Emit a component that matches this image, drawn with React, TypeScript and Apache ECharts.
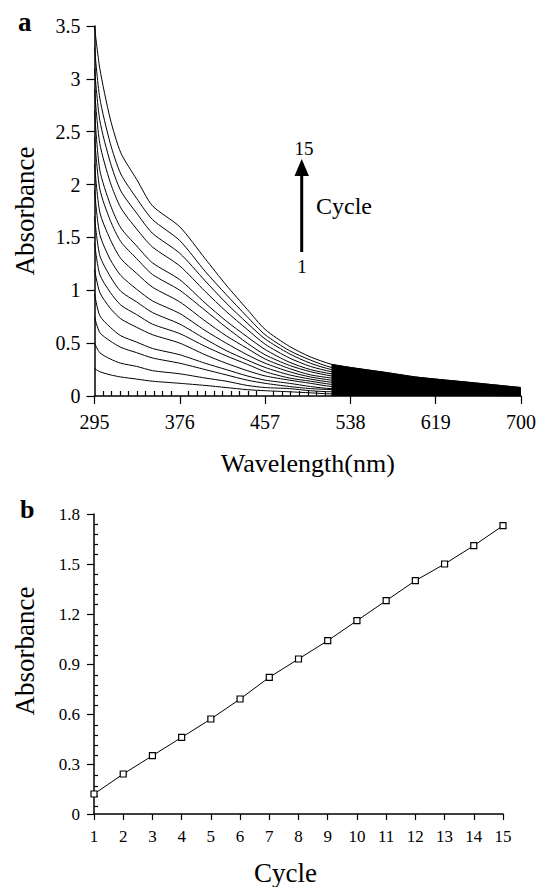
import React, { useEffect, useRef } from "react";
import * as echarts from "echarts";

// ---- Panel a: absorption spectra after each deposition cycle ----
const wavelengths = [295, 300, 310, 320, 335, 350, 376, 400, 420, 440, 457, 480, 500, 520, 538, 570, 600, 619, 650, 700];
const wavelengthTicks = [295, 376, 457, 538, 619, 700];

const cycle1 = [0.26, 0.23, 0.2, 0.18, 0.16, 0.14, 0.12, 0.1, 0.08, 0.06, 0.05, 0.04, 0.03, 0.02, 0.02, 0.012, 0.01, 0.005, 0.005, 0.0];
const cycle2 = [0.5, 0.41, 0.35, 0.31, 0.28, 0.24, 0.21, 0.17, 0.14, 0.1, 0.08, 0.07, 0.05, 0.04, 0.04, 0.03, 0.02, 0.015, 0.013, 0.005];
const cycle3 = [0.75, 0.6, 0.52, 0.46, 0.41, 0.36, 0.31, 0.25, 0.2, 0.15, 0.12, 0.09, 0.07, 0.06, 0.05, 0.04, 0.03, 0.025, 0.02, 0.01];
const cycle4 = [0.97, 0.76, 0.65, 0.57, 0.51, 0.45, 0.39, 0.31, 0.25, 0.19, 0.15, 0.12, 0.09, 0.07, 0.07, 0.05, 0.04, 0.034, 0.028, 0.015];
const cycle5 = [1.2, 0.98, 0.83, 0.73, 0.65, 0.58, 0.5, 0.39, 0.31, 0.24, 0.19, 0.15, 0.12, 0.09, 0.085, 0.067, 0.054, 0.045, 0.038, 0.021];
const cycle6 = [1.45, 1.15, 0.98, 0.86, 0.77, 0.68, 0.59, 0.47, 0.38, 0.3, 0.23, 0.17, 0.14, 0.11, 0.1, 0.08, 0.065, 0.055, 0.045, 0.026];
const cycle7 = [1.7, 1.33, 1.13, 0.99, 0.89, 0.79, 0.68, 0.54, 0.43, 0.34, 0.27, 0.2, 0.16, 0.13, 0.12, 0.093, 0.075, 0.065, 0.053, 0.031];
const cycle8 = [1.95, 1.53, 1.29, 1.14, 1.01, 0.9, 0.78, 0.62, 0.5, 0.39, 0.31, 0.23, 0.18, 0.15, 0.13, 0.107, 0.087, 0.075, 0.062, 0.036];
const cycle9 = [2.2, 1.74, 1.48, 1.3, 1.16, 1.03, 0.89, 0.71, 0.57, 0.45, 0.35, 0.26, 0.2, 0.17, 0.15, 0.12, 0.1, 0.087, 0.071, 0.042];
const cycle10 = [2.45, 1.96, 1.66, 1.46, 1.3, 1.15, 1.0, 0.81, 0.65, 0.5, 0.39, 0.29, 0.23, 0.19, 0.17, 0.14, 0.11, 0.098, 0.08, 0.048];
const cycle11 = [2.7, 2.14, 1.81, 1.59, 1.42, 1.26, 1.1, 0.88, 0.71, 0.56, 0.44, 0.32, 0.25, 0.21, 0.19, 0.15, 0.12, 0.108, 0.088, 0.053];
const cycle12 = [2.9, 2.39, 2.02, 1.78, 1.58, 1.41, 1.23, 0.99, 0.8, 0.63, 0.49, 0.36, 0.28, 0.23, 0.21, 0.17, 0.14, 0.12, 0.1, 0.06];
const cycle13 = [3.1, 2.61, 2.21, 1.94, 1.73, 1.54, 1.35, 1.09, 0.88, 0.69, 0.54, 0.4, 0.31, 0.25, 0.23, 0.19, 0.15, 0.13, 0.11, 0.066];
const cycle14 = [3.3, 2.82, 2.39, 2.1, 1.87, 1.67, 1.47, 1.18, 0.96, 0.75, 0.58, 0.43, 0.34, 0.27, 0.25, 0.2, 0.16, 0.145, 0.12, 0.072];
const cycle15 = [3.5, 3.1, 2.62, 2.3, 2.05, 1.8, 1.6, 1.3, 1.05, 0.82, 0.63, 0.47, 0.37, 0.3, 0.27, 0.225, 0.18, 0.16, 0.13, 0.08];
const spectra = [cycle1, cycle2, cycle3, cycle4, cycle5, cycle6, cycle7, cycle8, cycle9, cycle10, cycle11, cycle12, cycle13, cycle14, cycle15];
const fillFromWavelength = 520;

// ---- Panel b: absorbance vs cycle ----
const cycles = [1, 2, 3, 4, 5, 6, 7, 8, 9, 10, 11, 12, 13, 14, 15];
const absorbanceByCycle = [0.12, 0.24, 0.35, 0.46, 0.57, 0.69, 0.82, 0.93, 1.04, 1.16, 1.28, 1.4, 1.5, 1.61, 1.73];

const FONT = "Liberation Serif";

export default function App() {
  const ref = useRef<HTMLDivElement>(null);
  useEffect(() => {
    document.body.style.margin = "0";
    if (!ref.current) return;
    const chart = echarts.init(ref.current, undefined, { renderer: "svg" });
    const X0 = wavelengthTicks[0];
    const X1 = wavelengthTicks[wavelengthTicks.length - 1];
    const step = wavelengthTicks[1] - wavelengthTicks[0];
    const black = "#000";

    const spectraSeries = spectra.map((vals, i) => ({
      type: "line",
      name: `Cycle ${i + 1}`,
      xAxisIndex: 0,
      yAxisIndex: 0,
      data: wavelengths.map((w, j) => [w - X0, vals[j]]),
      symbol: "none",
      smooth: 0.25,
      lineStyle: { color: black, width: 1 },
      z: 3,
    }));

    const fillSeries = {
      type: "line",
      name: "overlap",
      xAxisIndex: 0,
      yAxisIndex: 0,
      data: wavelengths
        .map((w, j) => [w - X0, cycle15[j]])
        .filter((d) => d[0] >= fillFromWavelength - X0),
      symbol: "none",
      smooth: 0.25,
      lineStyle: { color: black, width: 1 },
      areaStyle: { color: black, opacity: 1 },
      z: 2,
    };

    const gridA = { left: 94.5, right: 18, top: 26, bottom: 491, containLabel: false };
    const gridB = { left: 94, right: 36, top: 514, bottom: 71, containLabel: false };
    // thin helper strips whose outer edge lies on the axis lines, used for the inner minor ticks
    const stripA = { left: 94.5, right: 18, top: 396, height: 10, containLabel: false };
    const stripB = { left: 84, width: 10, top: 514, bottom: 71, containLabel: false };

    const option: any = {
      animation: false,
      backgroundColor: "#fff",
      textStyle: { fontFamily: FONT },
      grid: [gridA, gridB, stripA, stripB],
      xAxis: [
        {
          type: "value",
          gridIndex: 0,
          position: "bottom",
          min: 0,
          max: X1 - X0,
          interval: step,
          axisLine: { lineStyle: { color: black, width: 1.5 } },
          axisTick: { length: 8, lineStyle: { color: black, width: 1.2 } },
          axisLabel: {
            formatter: (v: number) => String(v + X0),
            color: black,
            fontFamily: FONT,
            fontSize: 20,
            margin: 16,
          },
          splitLine: { show: false },
          name: "Wavelength(nm)",
          nameLocation: "middle",
          nameGap: 54,
          nameTextStyle: { color: black, fontFamily: FONT, fontSize: 26 },
        },
        {
          // inner minor ticks of panel a (pointing up from the x axis)
          type: "value",
          gridIndex: 2,
          position: "top",
          min: 0,
          max: X1 - X0,
          interval: step,
          axisLine: { show: false, onZero: false },
          axisTick: { show: false, inside: false },
          minorTick: { show: true, splitNumber: 10, length: 5, lineStyle: { color: black, width: 1.2 } },
          axisLabel: { show: false },
          splitLine: { show: false },
        },
        {
          type: "value",
          gridIndex: 1,
          position: "bottom",
          min: cycles[0],
          max: cycles[cycles.length - 1],
          interval: 1,
          axisLine: { lineStyle: { color: black, width: 1.5 } },
          axisTick: { length: 6, lineStyle: { color: black, width: 1.2 } },
          axisLabel: { color: black, fontFamily: FONT, fontSize: 17, margin: 14 },
          splitLine: { show: false },
          name: "Cycle",
          nameLocation: "middle",
          nameGap: 45,
          nameTextStyle: { color: black, fontFamily: FONT, fontSize: 27, padding: [0, 26, 0, 0] },
        },
        {
          type: "value",
          gridIndex: 3,
          min: 0,
          max: 1,
          axisLine: { show: false },
          axisTick: { show: false },
          axisLabel: { show: false },
          splitLine: { show: false },
        },
      ],
      yAxis: [
        {
          type: "value",
          gridIndex: 0,
          position: "left",
          min: 0,
          max: 3.5,
          interval: 0.5,
          axisLine: { show: true, lineStyle: { color: black, width: 1.5 } },
          axisTick: { show: true, length: 8, lineStyle: { color: black, width: 1.2 } },
          axisLabel: { color: black, fontFamily: FONT, fontSize: 20, margin: 14 },
          splitLine: { show: false },
          name: "Absorbance",
          nameLocation: "middle",
          nameGap: 56,
          nameTextStyle: { color: black, fontFamily: FONT, fontSize: 27 },
        },
        {
          type: "value",
          gridIndex: 1,
          position: "left",
          min: 0,
          max: 1.8,
          interval: 0.3,
          axisLine: { show: true, lineStyle: { color: black, width: 1.5 } },
          axisTick: { show: true, length: 7, lineStyle: { color: black, width: 1.2 } },
          axisLabel: { color: black, fontFamily: FONT, fontSize: 17, margin: 14 },
          splitLine: { show: false },
          name: "Absorbance",
          nameLocation: "middle",
          nameGap: 56,
          nameTextStyle: { color: black, fontFamily: FONT, fontSize: 27, padding: [0, 0, 0, 26] },
        },
        {
          // inner minor ticks of panel b (pointing right from the y axis)
          type: "value",
          gridIndex: 3,
          position: "right",
          min: 0,
          max: 1.8,
          interval: 0.3,
          axisLine: { show: false, onZero: false },
          axisTick: { show: false, inside: false },
          minorTick: { show: true, splitNumber: 5, length: 4, lineStyle: { color: black, width: 1.2 } },
          axisLabel: { show: false },
          splitLine: { show: false },
        },
        {
          type: "value",
          gridIndex: 2,
          min: 0,
          max: 1,
          axisLine: { show: false },
          axisTick: { show: false },
          axisLabel: { show: false },
          splitLine: { show: false },
        },
      ],
      series: [
        fillSeries,
        ...spectraSeries,
        {
          type: "line",
          name: "Absorbance vs cycle",
          xAxisIndex: 2,
          yAxisIndex: 1,
          data: cycles.map((c, i) => [c, absorbanceByCycle[i]]),
          symbol: "rect",
          symbolSize: 6,
          itemStyle: { color: "#fff", borderColor: black, borderWidth: 1.2 },
          lineStyle: { color: black, width: 1 },
          z: 3,
        },
      ],
      graphic: [
        {
          type: "text",
          x: 18,
          y: 35,
          style: { text: "a", fill: black, fontFamily: FONT, fontSize: 27, fontWeight: "bold", verticalAlign: "bottom" },
        },
        {
          type: "text",
          x: 20,
          y: 522,
          style: { text: "b", fill: black, fontFamily: FONT, fontSize: 26, fontWeight: "bold", verticalAlign: "bottom" },
        },
        {
          type: "line",
          shape: { x1: 301.7, y1: 252, x2: 301.7, y2: 172 },
          style: { stroke: black, lineWidth: 3 },
        },
        {
          type: "polygon",
          shape: { points: [[294.5, 176], [309, 176], [301.7, 159]] },
          style: { fill: black },
        },
        {
          type: "text",
          x: 304,
          y: 148,
          style: { text: "15", fill: black, fontFamily: FONT, fontSize: 19, align: "center", verticalAlign: "middle" },
        },
        {
          type: "text",
          x: 302,
          y: 266,
          style: { text: "1", fill: black, fontFamily: FONT, fontSize: 19, align: "center", verticalAlign: "middle" },
        },
        {
          type: "text",
          x: 316,
          y: 206,
          style: { text: "Cycle", fill: black, fontFamily: FONT, fontSize: 24, align: "left", verticalAlign: "middle" },
        },
      ],
    };
    chart.setOption(option);
    return () => chart.dispose();
  }, []);
  return <div ref={ref} style={{ width: 539, height: 887 }} />;
}
